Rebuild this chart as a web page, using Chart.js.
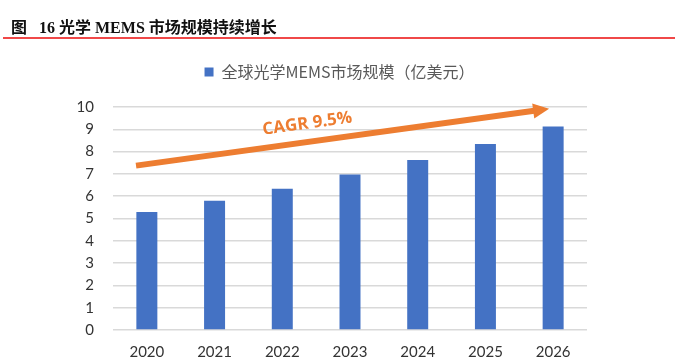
<!DOCTYPE html>
<html>
<head>
<meta charset="utf-8">
<script src="https://cdn.jsdelivr.net/npm/chart.js@4"></script>
<style>
  html, body { margin: 0; padding: 0; background: #fff; }
  #wrap { position: relative; width: 679px; height: 359px; overflow: hidden; }
  #title {
    position: absolute; left: 11px; top: 14px;
    font: bold 16px "Liberation Serif", "Noto Sans CJK SC", serif;
    color: #111; white-space: pre;
  }
  #rule { position: absolute; left: 3px; right: 4px; top: 37px; height: 2px; background: #f04848; }
  #chart { position: absolute; left: 0; top: 0; }
</style>
</head>
<body>
<div id="wrap">
  <canvas id="chart" width="679" height="359"></canvas>
  <div id="title">图   16 光学 MEMS 市场规模持续增长</div>
  <div id="rule"></div>
</div>
<script>
"use strict";

const YEARS = ["2020", "2021", "2022", "2023", "2024", "2025", "2026"];
const MARKET = [5.29, 5.80, 6.33, 6.97, 7.62, 8.34, 9.13];
const SERIES_LABEL = "全球光学MEMS市场规模（亿美元）";
const CAGR_TEXT = "CAGR 9.5%";
// arrow ends in data units: [category index, value]
const ARROW_FROM = [-0.16, 7.37];
const ARROW_TO = [5.94, 9.92];

const ORANGE = "#ED7D31";
const BLUE = "#4472C4";
const TICK = "#333333";

// push the plot down under the legend, and center the legend on the whole canvas
const legendGap = {
  id: "legendGap",
  beforeInit(chart) {
    const fit = chart.legend.fit;
    chart.legend.fit = function () {
      fit.bind(this)();
      this.height += 17;
    };
  },
  afterLayout(chart) {
    const lg = chart.legend;
    const extra = chart.width - lg.right;
    lg.right += extra;
    lg.width += extra;
  },
};

// trend arrow + CAGR label, positioned through the scales
const cagrArrow = {
  id: "cagrArrow",
  afterDatasetsDraw(chart) {
    const { ctx, scales: { x, y } } = chart;
    const x0 = x.getPixelForValue(ARROW_FROM[0]);
    const y0 = y.getPixelForValue(ARROW_FROM[1]);
    const x1 = x.getPixelForValue(ARROW_TO[0]);
    const y1 = y.getPixelForValue(ARROW_TO[1]);
    const ang = Math.atan2(y1 - y0, x1 - x0);
    const head = 16, half = 7.5;
    const bx = x1 - head * Math.cos(ang), by = y1 - head * Math.sin(ang);

    ctx.save();
    ctx.strokeStyle = ORANGE;
    ctx.fillStyle = ORANGE;
    ctx.lineWidth = 6;
    ctx.beginPath();
    ctx.moveTo(x0, y0);
    ctx.lineTo(bx + Math.cos(ang), by + Math.sin(ang));
    ctx.stroke();

    ctx.beginPath();
    ctx.moveTo(x1, y1);
    ctx.lineTo(bx - half * Math.sin(ang), by + half * Math.cos(ang));
    ctx.lineTo(bx + half * Math.sin(ang), by - half * Math.cos(ang));
    ctx.closePath();
    ctx.fill();

    // label sits above the middle of the arrow
    const tx = x.getPixelForValue(2.37), ty = y.getPixelForValue(9.25);
    ctx.translate(tx, ty);
    ctx.rotate(ang);
    ctx.font = "bold 17px 'Open Sans', sans-serif";
    ctx.textAlign = "center";
    ctx.textBaseline = "middle";
    ctx.fillText(CAGR_TEXT, 0, 0);
    ctx.restore();
  },
};

new Chart(document.getElementById("chart"), {
  type: "bar",
  data: {
    labels: YEARS,
    datasets: [
      {
        label: SERIES_LABEL,
        data: MARKET,
        backgroundColor: BLUE,
        borderWidth: 0,
        categoryPercentage: 1,
        barPercentage: 0.31,
      },
    ],
  },
  plugins: [legendGap, cagrArrow],
  options: {
    responsive: false,
    animation: false,
    layout: { padding: { top: 58, right: 92, bottom: 0, left: 0 } },
    plugins: {
      legend: {
        display: true,
        position: "top",
        labels: {
          boxWidth: 9,
          boxHeight: 9,
          padding: 6,
          color: "#595959",
          font: { family: "'Noto Sans CJK SC', sans-serif", size: 16 },
        },
      },
      tooltip: { enabled: false },
    },
    scales: {
      x: {
        grid: { display: false, drawTicks: false },
        border: { display: false },
        ticks: {
          color: TICK,
          padding: 13,
          font: { family: "Lato, sans-serif", size: 15 },
        },
        afterFit: (s) => { s.height = 29; },
      },
      y: {
        min: 0,
        max: 10,
        grid: { color: "#d9d9d9", lineWidth: 1.5, drawTicks: false },
        border: { display: false },
        ticks: {
          stepSize: 1,
          color: TICK,
          padding: 19,
          font: { family: "Lato, sans-serif", size: 15 },
        },
        afterFit: (s) => { s.width = 113; },
      },
    },
  },
});
</script>
</body>
</html>
